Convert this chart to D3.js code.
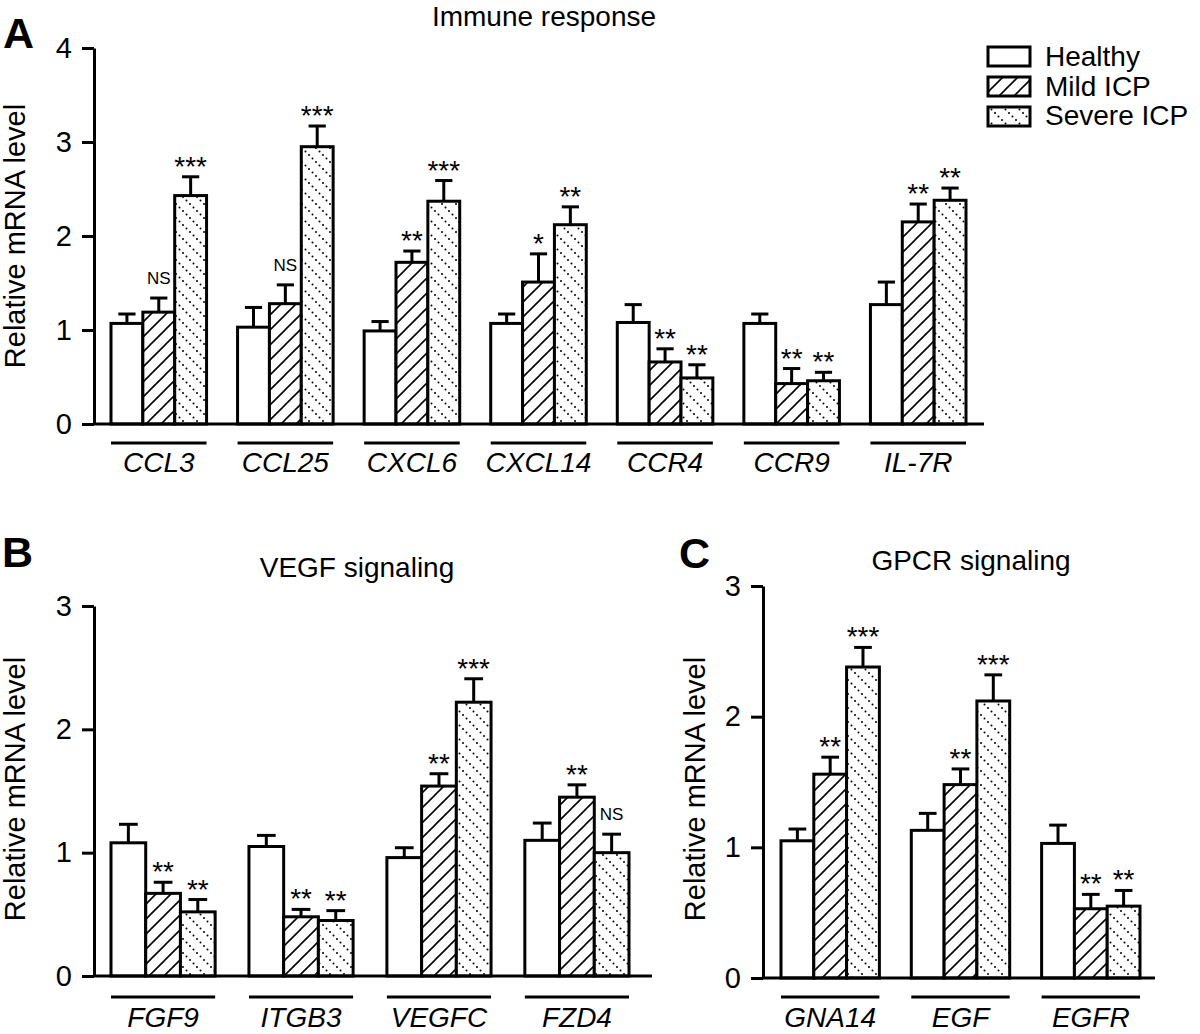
<!DOCTYPE html>
<html>
<head>
<meta charset="utf-8">
<script src="https://cdn.jsdelivr.net/npm/d3@7"></script>
<style>
  html, body { margin: 0; padding: 0; background: #fff; }
  svg { display: block; font-family: "Liberation Sans", Arial, sans-serif; }
</style>
</head>
<body>
<svg id="chart" width="1200" height="1034"></svg>
<script>
// ---------------- DATA ----------------
const seriesNames = ["Healthy", "Mild ICP", "Severe ICP"];

// Panel A: Immune response
const genesA = ["CCL3", "CCL25", "CXCL6", "CXCL14", "CCR4", "CCR9", "IL-7R"];
const healthyA = [1.07, 1.03, 0.99, 1.07, 1.08, 1.07, 1.27];
const mildA    = [1.19, 1.28, 1.72, 1.51, 0.66, 0.43, 2.15];
const severeA  = [2.43, 2.95, 2.37, 2.12, 0.49, 0.46, 2.38];
const healthyErrA = [0.10, 0.21, 0.10, 0.10, 0.19, 0.10, 0.24];
const mildErrA    = [0.15, 0.20, 0.12, 0.30, 0.14, 0.16, 0.19];
const severeErrA  = [0.20, 0.22, 0.22, 0.19, 0.14, 0.09, 0.13];
const mildSigA   = ["NS", "NS", "**", "*", "**", "**", "**"];
const severeSigA = ["***", "***", "***", "**", "**", "**", "**"];
const ticksA = [0, 1, 2, 3, 4];

// Panel B: VEGF signaling
const genesB = ["FGF9", "ITGB3", "VEGFC", "FZD4"];
const healthyB = [1.08, 1.05, 0.96, 1.10];
const mildB    = [0.67, 0.48, 1.54, 1.45];
const severeB  = [0.52, 0.45, 2.22, 1.00];
const healthyErrB = [0.15, 0.09, 0.08, 0.14];
const mildErrB    = [0.09, 0.06, 0.10, 0.10];
const severeErrB  = [0.10, 0.08, 0.19, 0.15];
const mildSigB   = ["**", "**", "**", "**"];
const severeSigB = ["**", "**", "***", "NS"];
const ticksB = [0, 1, 2, 3];

// Panel C: GPCR signaling
const genesC = ["GNA14", "EGF", "EGFR"];
const healthyC = [1.05, 1.13, 1.03];
const mildC    = [1.56, 1.48, 0.53];
const severeC  = [2.38, 2.12, 0.55];
const healthyErrC = [0.09, 0.13, 0.14];
const mildErrC    = [0.13, 0.12, 0.11];
const severeErrC  = [0.15, 0.20, 0.12];
const mildSigC   = ["**", "**", "**"];
const severeSigC = ["***", "***", "**"];
const ticksC = [0, 1, 2, 3];

// ---------------- DRAWING ----------------
const svg = d3.select("#chart");
const FONT = '"Liberation Sans", Arial, sans-serif';

const defs = svg.append("defs");
const hatch = defs.append("pattern").attr("id", "mild").attr("patternUnits", "userSpaceOnUse")
  .attr("width", 15).attr("height", 15);
hatch.append("rect").attr("width", 15).attr("height", 15).attr("fill", "#fff");
hatch.append("path").attr("d", "M-3,3 L3,-3 M0,15 L15,0 M12,18 L18,12")
  .attr("stroke", "#000").attr("stroke-width", 1.6).attr("fill", "none");

const dots = defs.append("pattern").attr("id", "severe").attr("patternUnits", "userSpaceOnUse")
  .attr("width", 14).attr("height", 14);
dots.append("rect").attr("width", 14).attr("height", 14).attr("fill", "#fff");
[0, 3.5, 7, 10.5].forEach(t => {
  dots.append("circle").attr("cx", t + 1).attr("cy", t + 1).attr("r", 1).attr("fill", "#000");
});

const fills = ["#fff", "url(#mild)", "url(#severe)"];

const panels = [
  { letter: "A", title: "Immune response", genes: genesA,
    vals: [healthyA, mildA, severeA], errs: [healthyErrA, mildErrA, severeErrA],
    sigs: [null, mildSigA, severeSigA], ticks: ticksA, yMax: 4,
    x0: 111, x1: 966, axisX: 94, axisRight: 984, yTop: 48, yBot: 424,
    titleX: 544, titleY: 26, letterX: 3, letterY: 48, ylabX: 25, ylabY: 236,
    lineY: 443, labelY: 472 },
  { letter: "B", title: "VEGF signaling", genes: genesB,
    vals: [healthyB, mildB, severeB], errs: [healthyErrB, mildErrB, severeErrB],
    sigs: [null, mildSigB, severeSigB], ticks: ticksB, yMax: 3,
    x0: 111, x1: 629, axisX: 94, axisRight: 652, yTop: 606, yBot: 976,
    titleX: 357, titleY: 577, letterX: 2, letterY: 567, ylabX: 25, ylabY: 789,
    lineY: 997, labelY: 1027 },
  { letter: "C", title: "GPCR signaling", genes: genesC,
    vals: [healthyC, mildC, severeC], errs: [healthyErrC, mildErrC, severeErrC],
    sigs: [null, mildSigC, severeSigC], ticks: ticksC, yMax: 3,
    x0: 781, x1: 1140, axisX: 763, axisRight: 1155, yTop: 586, yBot: 978,
    titleX: 971, titleY: 570, letterX: 679, letterY: 568, ylabX: 705, ylabY: 789,
    lineY: 997, labelY: 1027 }
];

panels.forEach(p => {
  const g = svg.append("g");
  const y = d3.scaleLinear().domain([0, p.yMax]).range([p.yBot, p.yTop]);
  const xg = d3.scaleBand().domain(p.genes).range([p.x0, p.x1]).paddingInner(0.245).paddingOuter(0);
  const xs = d3.scaleBand().domain(d3.range(3)).range([0, xg.bandwidth()]).padding(0);
  const bw = xs.bandwidth();

  p.genes.forEach((gene, i) => {
    for (let s = 0; s < 3; s++) {
      const v = p.vals[s][i];
      const e = p.errs[s][i];
      const bx = xg(gene) + xs(s);
      const cx = bx + bw / 2;
      g.append("line").attr("x1", cx).attr("x2", cx).attr("y1", y(v)).attr("y2", y(v + e))
        .attr("stroke", "#000").attr("stroke-width", 3);
      g.append("line").attr("x1", cx - bw * 0.27).attr("x2", cx + bw * 0.27)
        .attr("y1", y(v + e)).attr("y2", y(v + e))
        .attr("stroke", "#000").attr("stroke-width", 3);
      g.append("rect").attr("x", bx).attr("y", y(v)).attr("width", bw).attr("height", y(0) - y(v))
        .attr("fill", fills[s]).attr("stroke", "#000").attr("stroke-width", 3);
      if (p.sigs[s]) {
        const lab = p.sigs[s][i];
        const isNS = lab === "NS";
        g.append("text").attr("x", cx).attr("y", y(v + e) - (isNS ? 14 : 1))
          .attr("text-anchor", "middle").attr("font-size", isNS ? 17 : 28)
          .attr("font-family", FONT).attr("fill", "#000").text(lab);
      }
    }
    g.append("line").attr("x1", xg(gene)).attr("x2", xg(gene) + xg.bandwidth())
      .attr("y1", p.lineY).attr("y2", p.lineY).attr("stroke", "#000").attr("stroke-width", 3);
    g.append("text").attr("x", xg(gene) + xg.bandwidth() / 2).attr("y", p.labelY)
      .attr("text-anchor", "middle").attr("font-size", 28).attr("font-style", "italic")
      .attr("font-family", FONT).text(gene);
  });

  g.append("line").attr("x1", p.axisX).attr("x2", p.axisRight).attr("y1", y(0)).attr("y2", y(0))
    .attr("stroke", "#000").attr("stroke-width", 3);

  const ax = g.append("g").attr("transform", `translate(${p.axisX},0)`)
    .call(d3.axisLeft(y).tickValues(p.ticks).tickFormat(d3.format("d"))
      .tickSize(12).tickSizeOuter(0).tickPadding(10));
  ax.select(".domain").attr("stroke", "#000").attr("stroke-width", 3);
  ax.selectAll(".tick line").attr("stroke", "#000").attr("stroke-width", 3);
  ax.selectAll(".tick text").attr("font-size", 29).attr("font-family", FONT).attr("fill", "#000");

  g.append("text").attr("transform", `translate(${p.ylabX},${p.ylabY}) rotate(-90)`)
    .attr("text-anchor", "middle").attr("font-size", 29).attr("font-family", FONT)
    .text("Relative mRNA level");

  g.append("text").attr("x", p.titleX).attr("y", p.titleY).attr("text-anchor", "middle")
    .attr("font-size", 28).attr("font-family", FONT).text(p.title);

  g.append("text").attr("x", p.letterX).attr("y", p.letterY).attr("font-size", 43)
    .attr("font-weight", "bold").attr("font-family", FONT).text(p.letter);
});

// legend
const legend = svg.append("g");
seriesNames.forEach((name, s) => {
  legend.append("rect").attr("x", 988).attr("y", 47 + s * 30).attr("width", 42).attr("height", 19)
    .attr("fill", fills[s]).attr("stroke", "#000").attr("stroke-width", 3);
  legend.append("text").attr("x", 1045).attr("y", 66 + s * 29.5).attr("font-size", 28)
    .attr("font-family", FONT).text(name);
});
</script>
</body>
</html>
